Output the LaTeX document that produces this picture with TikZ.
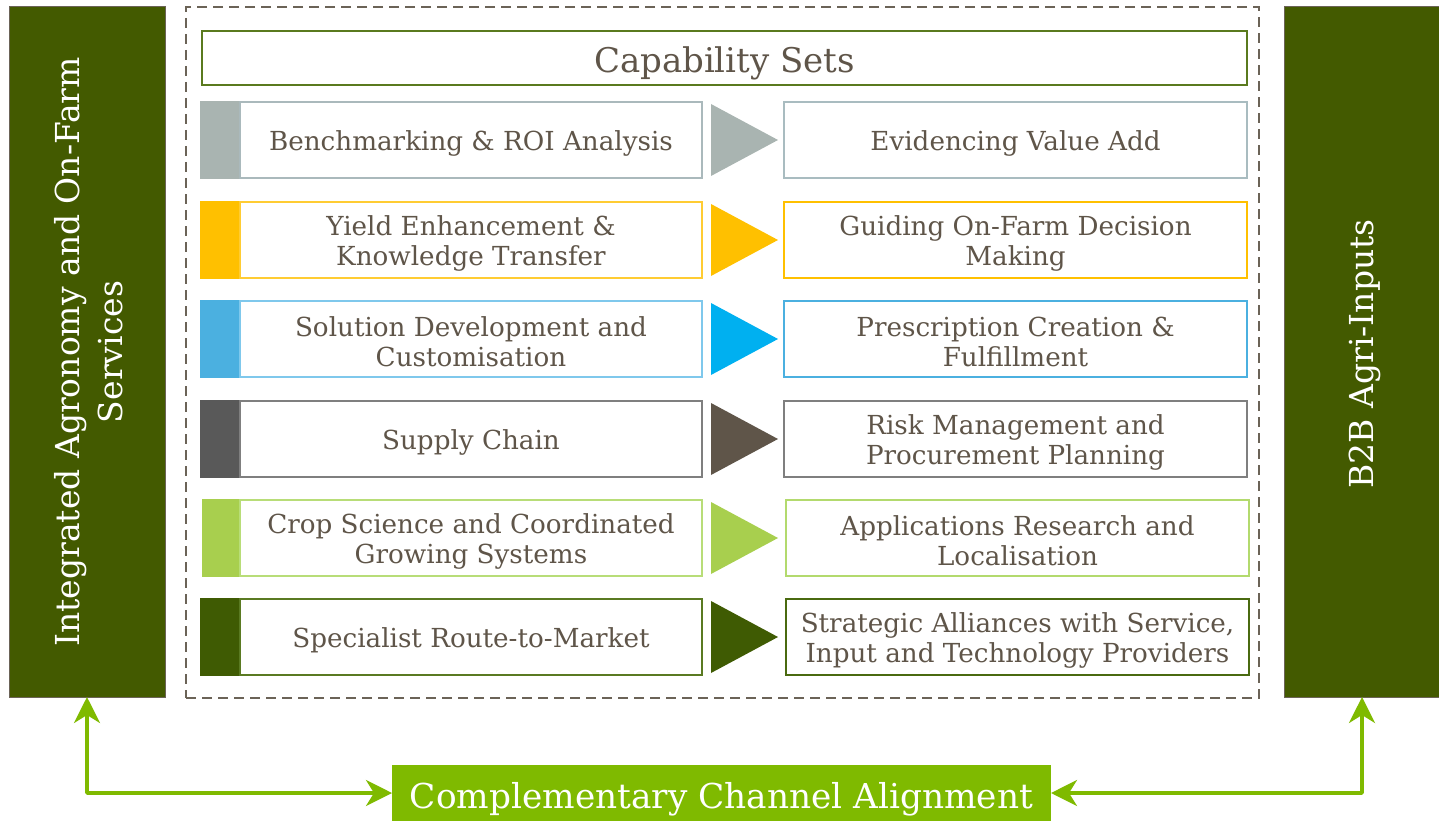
\documentclass[tikz,border=0pt]{standalone}
\usepackage{fontspec}
\setmainfont{DejaVu Serif}
\usetikzlibrary{arrows.meta}
\definecolor{txt}{HTML}{5F5549}
\definecolor{sidegreen}{HTML}{435A00}
\definecolor{sideedge}{HTML}{6B6357}
\definecolor{linkgreen}{HTML}{7FBA00}
\definecolor{capedge}{HTML}{5A7A1E}
% row palettes: strip / box edge / arrow / right edge
\definecolor{sA}{HTML}{A9B4B1}\definecolor{eA}{HTML}{AAB9BC}\definecolor{tA}{HTML}{A9B4B1}\definecolor{rA}{HTML}{A9BCC0}
\definecolor{sB}{HTML}{FFC000}\definecolor{eB}{HTML}{FFCC33}\definecolor{tB}{HTML}{FFC000}\definecolor{rB}{HTML}{FFC000}
\definecolor{sC}{HTML}{4BB0E0}\definecolor{eC}{HTML}{7FC8EC}\definecolor{tC}{HTML}{00B0F0}\definecolor{rC}{HTML}{4BB0E0}
\definecolor{sD}{HTML}{595959}\definecolor{eD}{HTML}{7F7F7F}\definecolor{tD}{HTML}{5F5549}\definecolor{rD}{HTML}{7F7F7F}
\definecolor{sE}{HTML}{A8CF4E}\definecolor{eE}{HTML}{B8DD78}\definecolor{tE}{HTML}{A8CF4E}\definecolor{rE}{HTML}{B3DA6E}
\definecolor{sF}{HTML}{3F5B03}\definecolor{eF}{HTML}{5A7A22}\definecolor{tF}{HTML}{3F5B03}\definecolor{rF}{HTML}{4A6A10}
\begin{document}
\begin{tikzpicture}[x=1pt,y=-1pt,
  every node/.style={inner sep=0pt,outer sep=0pt},
  sidebar/.style={fill=sidegreen,draw=sideedge,line width=1pt,anchor=north west},
  sidetext/.style={text=white,font=\fontsize{33}{43}\selectfont,align=center,rotate=90},
  rowbox/.style={draw=#1,line width=1.2pt,fill=white,anchor=north west,minimum height=76pt},
  rowtext/.style={text=txt,font=\fontsize{26.2}{30}\selectfont,align=center},
  stripbox/.style={fill=#1,draw=#1,line width=1.2pt,anchor=north west,minimum width=39pt,minimum height=76pt},
  pointer/.style={fill=#1},
  link/.style={draw=linkgreen,line width=3.5pt,line cap=round,line join=round,
     {Stealth[length=26pt,width=26pt,inset=8pt]}-{Stealth[length=26pt,width=26pt,inset=8pt]}}
]
\useasboundingbox (0,0) rectangle (1439,821);

% side columns
\node[sidebar,minimum width=156pt,minimum height=690pt] (lbar) at (9,7) {};
\node[sidetext] (lbartext) at ([xshift=2pt]lbar.center) {Integrated Agronomy and On-Farm\\Services};
\node[sidebar,minimum width=156pt,minimum height=690pt] (rbar) at (1284,7) {};
\node[sidetext] (rbartext) at ([xshift=3pt,yshift=-2pt]rbar.center) {B2B Agri-Inputs};

% dashed frame around the capability sets
\node[draw=sideedge,dash pattern=on 10pt off 6pt,line width=2.4pt,anchor=north west,
      minimum width=1073pt,minimum height=691pt] (frame) at (186,7) {};

% heading
\node[draw=capedge,line width=1.2pt,anchor=north west,minimum width=1045pt,minimum height=54pt] (cap) at (202,31) {};
\node[text=txt,font=\fontsize{34}{38}\selectfont] (captext) at ([yshift=-5pt]cap.center) {Capability Sets};

% capability rows
\newcommand{\caprow}[6]{%
  \node[stripbox=s#1] (s#1) at (#3,#2) {};
  \node[rowbox=e#1,minimum width=462pt] (l#1) at (240,#2) {};
  \node[rowbox=r#1,minimum width=463pt] (r#1) at (#5,#2) {};
  \node[rowtext] (lt#1) at ([yshift=-3pt]l#1.center) {#4};
  \node[rowtext] (rt#1) at ([yshift=-3pt]r#1.center) {#6};
  \fill[pointer=t#1] (711,#2+2) -- (778,#2+38) -- (711,#2+74) -- cycle;
}
\caprow{A}{102}{201}{Benchmarking \& ROI Analysis}{784}{Evidencing Value Add}
\caprow{B}{202}{201}{Yield Enhancement \&\\Knowledge Transfer}{784}{Guiding On-Farm Decision\\Making}
\caprow{C}{301}{201}{Solution Development and\\Customisation}{784}{Prescription Creation \&\\Fulfillment}
\caprow{D}{401}{201}{Supply Chain}{784}{Risk Management and\\Procurement Planning}
\caprow{E}{500}{203}{Crop Science and Coordinated\\Growing Systems}{786}{Applications Research and\\Localisation}
\caprow{F}{599}{201}{Specialist Route-to-Market}{786}{Strategic Alliances with Service,\\Input and Technology Providers}

% channel alignment
\node[fill=linkgreen,anchor=north west,minimum width=659pt,minimum height=56pt] (cca) at (392,765) {};
\node[text=white,font=\fontsize{34.3}{38}\selectfont] (ccatext) at ([yshift=-6pt]cca.center) {Complementary Channel Alignment};
\draw[link] (lbar.south) |- (cca.west);
\draw[link] (rbar.south) |- (cca.east);
\end{tikzpicture}
\end{document}
